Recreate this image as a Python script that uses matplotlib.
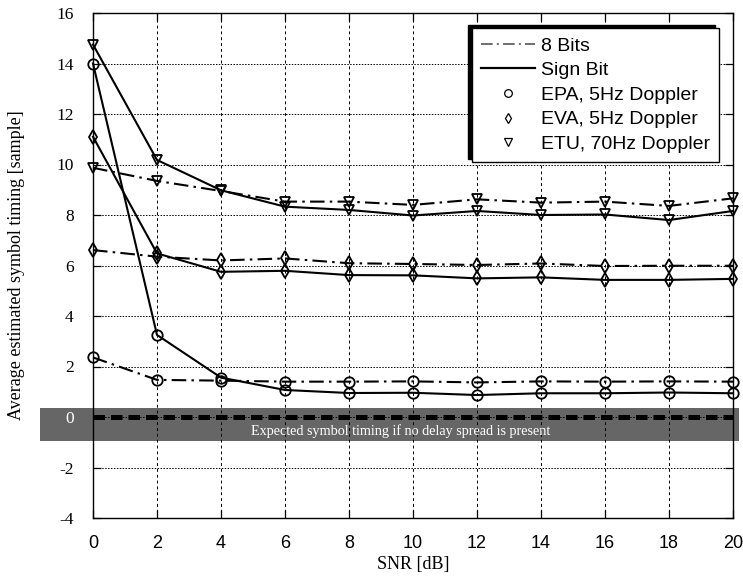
import matplotlib
matplotlib.use("Agg")
import matplotlib.pyplot as plt
from matplotlib.patches import Rectangle
from matplotlib.lines import Line2D

snr = [0, 2, 4, 6, 8, 10, 12, 14, 16, 18, 20]

epa_8bit = [2.36, 1.47, 1.44, 1.40, 1.40, 1.41, 1.37, 1.41, 1.40, 1.41, 1.40]
epa_sign = [14.0, 3.25, 1.56, 1.07, 0.95, 0.96, 0.87, 0.94, 0.94, 0.97, 0.94]
eva_8bit = [6.61, 6.35, 6.20, 6.28, 6.09, 6.06, 6.02, 6.08, 5.98, 5.99, 5.99]
eva_sign = [11.10, 6.48, 5.75, 5.79, 5.62, 5.61, 5.49, 5.53, 5.43, 5.43, 5.47]
etu_8bit = [9.87, 9.35, 8.95, 8.53, 8.53, 8.40, 8.62, 8.49, 8.53, 8.36, 8.66]
etu_sign = [14.75, 10.18, 8.98, 8.33, 8.20, 7.98, 8.16, 8.00, 8.02, 7.80, 8.16]

xticks = [0, 2, 4, 6, 8, 10, 12, 14, 16, 18, 20]
yticks = [-4, -2, 0, 2, 4, 6, 8, 10, 12, 14, 16]

legend_labels = ["8 Bits", "Sign Bit", "EPA, 5Hz Doppler", "EVA, 5Hz Doppler", "ETU, 70Hz Doppler"]
band_text = "Expected symbol timing if no delay spread is present"

serif = ["Liberation Serif", "DejaVu Serif"]
sans = ["Liberation Sans", "DejaVu Sans"]

fig = plt.figure(figsize=(7.43, 5.76), dpi=100)
ax = fig.add_axes([93/743, 1-518/576, 640/743, 505/576])

ax.set_xlim(0, 20)
ax.set_ylim(-4, 16)

# grey band
band = Rectangle((-1.66, -0.95), 21.85, 1.31, transform=ax.transData,
                 facecolor="#666666", edgecolor="none", clip_on=False, zorder=1)
ax.add_patch(band)

ax.plot([0, 20], [0, 0], color="black", lw=3.6, linestyle=(0, (2.3, 1.2)), zorder=3,
        solid_capstyle="butt", dash_capstyle="butt")
ax.text(9.62, -0.55, band_text, color="white", ha="center", va="center",
        fontsize=10.2, family=serif, zorder=4)

dashdot = (0, (7, 2.5, 1.2, 2.5))
mk = dict(markersize=7.5, markerfacecolor="none", markeredgecolor="black", markeredgewidth=1.3)
lw = 1.5
for d, m in [(epa_8bit, "o"), (eva_8bit, "d"), (etu_8bit, "v")]:
    ax.plot(snr, d, color="black", lw=lw, linestyle=dashdot, marker=m, zorder=5, clip_on=False, **mk)
for d, m in [(epa_sign, "o"), (eva_sign, "d"), (etu_sign, "v")]:
    ax.plot(snr, d, color="black", lw=lw, linestyle="-", marker=m, zorder=5, clip_on=False, **mk)

ax.set_xticks(xticks)
ax.set_yticks(yticks)
ax.set_xticklabels([str(v) for v in xticks], family=sans, fontsize=13)
ax.set_yticklabels([str(v) for v in yticks], family=serif, fontsize=12.5)
for t in ax.get_yticklabels():
    if t.get_text() == "0":
        t.set_color("white")

ax.tick_params(direction="in", length=6, width=0.9, top=True, right=True)
ax.tick_params(axis="x", pad=12)
ax.tick_params(axis="y", pad=14)

ax.xaxis.grid(True, color="black", lw=0.7, linestyle=(0, (3, 3)))
ax.yaxis.grid(True, color="black", lw=0.7, linestyle=(0, (1.5, 1.5)))

for s in ax.spines.values():
    s.set_linewidth(1.0)

ax.set_xlabel("SNR [dB]", family=serif, fontsize=13, labelpad=3)
ax.set_ylabel("Average estimated symbol timing [sample]", family=serif, fontsize=13, labelpad=22)

lmk = dict(linestyle="none", markersize=5.5, markerfacecolor="none", markeredgecolor="black", markeredgewidth=0.9)
handles = [
    Line2D([], [], color="#555555", lw=1.2, linestyle=dashdot),
    Line2D([], [], color="black", lw=1.6, linestyle="-"),
    Line2D([], [], marker="o", **lmk),
    Line2D([], [], marker="d", **lmk),
    Line2D([], [], marker="v", **lmk),
]
leg = ax.legend(handles, legend_labels, loc="upper right", bbox_to_anchor=(0.978, 0.970),
                borderaxespad=0, fancybox=False, framealpha=1, edgecolor="black",
                prop={"family": sans, "size": 14}, handlelength=2.8, handletextpad=0.3,
                labelspacing=0.36, borderpad=0.45,
                shadow={"ox": -3, "oy": 2.2, "facecolor": "black", "edgecolor": "black", "alpha": 1})
leg.get_frame().set_linewidth(1.0)
leg.set_zorder(10)

fig.savefig("out.png", dpi=100)
